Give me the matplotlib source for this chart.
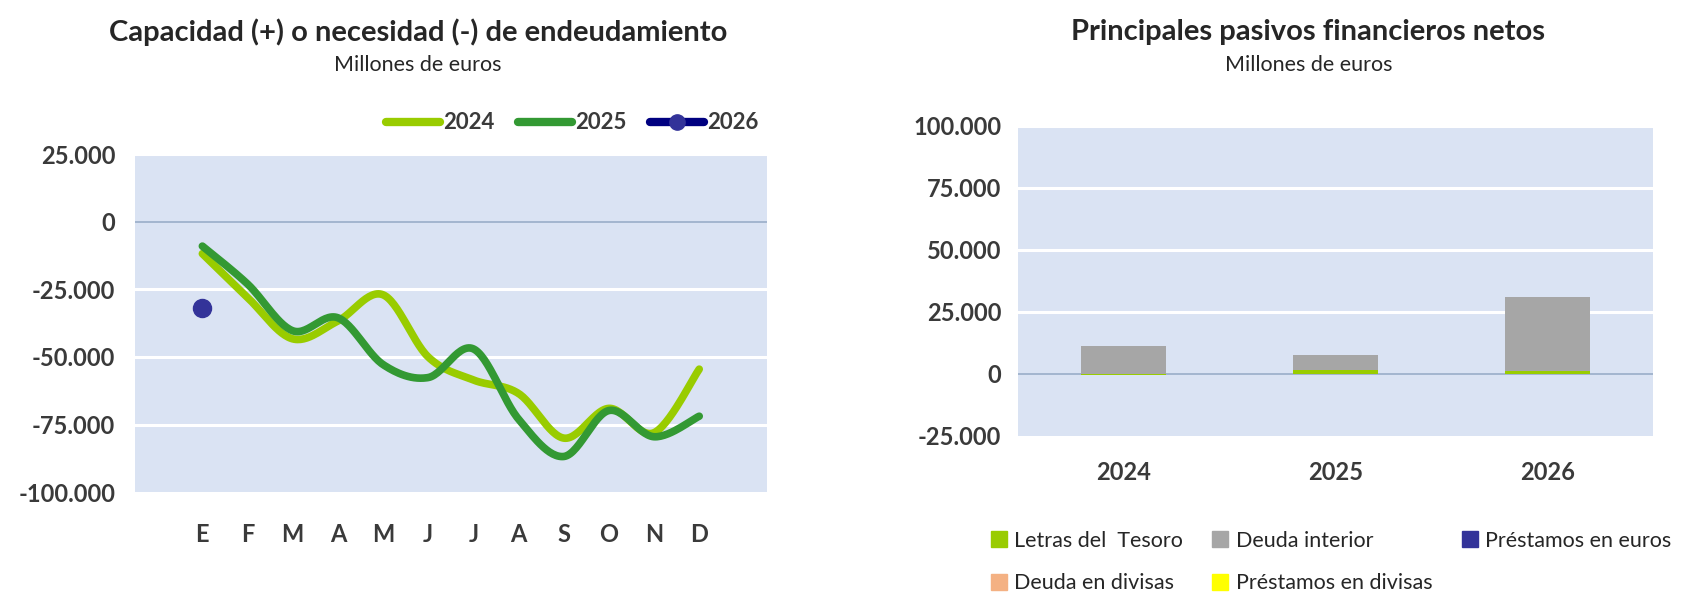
import numpy as np
import matplotlib
matplotlib.use("Agg")
from matplotlib import pyplot as plt
from matplotlib.ticker import FuncFormatter, FixedLocator
from matplotlib.lines import Line2D
from matplotlib.patches import Patch

plt.rcParams['font.family'] = ['Lato', 'DejaVu Sans']

# left chart: capacidad / necesidad de endeudamiento (millones de euros)
months = ['E', 'F', 'M', 'A', 'M', 'J', 'J', 'A', 'S', 'O', 'N', 'D']
serie_2024 = [-11800, -28000, -43300, -36700, -27000, -50000, -58500, -63500, -80000, -69000, -78000, -54500]
serie_2025 = [-9000, -23000, -40300, -35500, -52800, -57600, -47000, -73000, -86800, -69800, -79500, -71900]
serie_2026 = [-31800]

# right chart: principales pasivos financieros netos
years = ['2024', '2025', '2026']
letras = [-500, 1600, 1300]
deuda_interior = [11200, 6000, 29600]
prestamos_euros = [0, 0, 0]
deuda_divisas = [0, 0, 0]
prestamos_divisas = [0, 0, 0]

BG = '#DAE3F3'
TXT = '#262626'
TICK = '#3A3A3A'


def smooth(x, y, n=30):
    # Excel-style smoothed line (Catmull-Rom bezier through the data points)
    x = np.asarray(x, float)
    y = np.asarray(y, float)
    xs, ys = [], []
    t = np.linspace(0, 1, n)
    for i in range(len(x) - 1):
        p0 = max(i - 1, 0)
        p3 = min(i + 2, len(x) - 1)
        c1x = x[i] + (x[i + 1] - x[p0]) / 6
        c1y = y[i] + (y[i + 1] - y[p0]) / 6
        c2x = x[i + 1] - (x[p3] - x[i]) / 6
        c2y = y[i + 1] - (y[p3] - y[i]) / 6
        bx = (1 - t) ** 3 * x[i] + 3 * (1 - t) ** 2 * t * c1x + 3 * (1 - t) * t ** 2 * c2x + t ** 3 * x[i + 1]
        by = (1 - t) ** 3 * y[i] + 3 * (1 - t) ** 2 * t * c1y + 3 * (1 - t) * t ** 2 * c2y + t ** 3 * y[i + 1]
        xs.extend(bx)
        ys.extend(by)
    return xs, ys


def thousands(v, pos):
    return f"{int(round(v)):,}".replace(",", ".")


fig = plt.figure(figsize=(16.89, 5.93), dpi=100)

# ---------- left chart ----------
ax1 = fig.add_axes([0.0797, 0.170, 0.3744, 0.570])
ax1.set_facecolor(BG)
x = np.arange(len(months))
ax1.set_xlim(-1.5, 12.5)
ax1.set_ylim(-100000, 25000)
for g in [25000, -25000, -50000, -75000]:
    ax1.axhline(g, color='white', lw=2.2, zorder=1)
ax1.axhline(0, color='#9AAEC8', lw=1.2, zorder=1)

sx, sy = smooth(x, serie_2024)
ax1.plot(sx, sy, color='#99CC00', lw=5.5, solid_capstyle='round', zorder=3)
sx, sy = smooth(x, serie_2025)
ax1.plot(sx, sy, color='#339933', lw=5.5, solid_capstyle='round', zorder=4)
ax1.plot(x[:len(serie_2026)], serie_2026, 'o', color='#333399', ms=13, zorder=5)

ax1.xaxis.set_major_locator(FixedLocator(x))
ax1.set_xticklabels(months)
ax1.yaxis.set_major_locator(FixedLocator([25000, 0, -25000, -50000, -75000, -100000]))
ax1.yaxis.set_major_formatter(FuncFormatter(thousands))
ax1.tick_params(length=0, labelsize=17, colors=TICK, pad=14)
ax1.tick_params(axis='x', pad=22)
for lab in ax1.get_xticklabels() + ax1.get_yticklabels():
    lab.set_fontweight('bold')
for s in ax1.spines.values():
    s.set_visible(False)

leg_handles = [
    Line2D([], [], color='#99CC00', lw=6, solid_capstyle='round'),
    Line2D([], [], color='#339933', lw=6, solid_capstyle='round'),
    Line2D([], [], color='#000080', lw=6, solid_capstyle='round', marker='o',
           markersize=11, markerfacecolor='#333399', markeredgecolor='#333399'),
]
leg = ax1.legend(leg_handles, ['2024', '2025', '2026'], ncol=3, loc='lower right',
                 bbox_to_anchor=(1.0, 1.035), frameon=False, handlelength=2.45,
                 handletextpad=0.12, columnspacing=1.05, borderaxespad=0,
                 prop={'weight': 'bold', 'size': 16})
for t in leg.get_texts():
    t.set_color(TICK)

fig.text(0.2474, 0.946, 'Capacidad (+) o necesidad (-) de endeudamiento', ha='center', va='center',
         fontsize=21, fontweight='bold', color=TXT)
fig.text(0.2474, 0.891, 'Millones de euros', ha='center', va='center', fontsize=15.5, color=TXT)

# ---------- right chart ----------
ax2 = fig.add_axes([0.6027, 0.2648, 0.376, 0.5228])
ax2.set_facecolor(BG)
xb = np.arange(len(years))
ax2.set_xlim(-0.5, 2.5)
ax2.set_ylim(-25000, 100000)
for g in [25000, 50000, 75000, 100000]:
    ax2.axhline(g, color='white', lw=2.2, zorder=1)
ax2.axhline(0, color='#9AAEC8', lw=1.2, zorder=1)

w = 0.4
series = [
    ('Letras del  Tesoro', letras, '#99CC00'),
    ('Deuda interior', deuda_interior, '#A6A6A6'),
    ('Préstamos en euros', prestamos_euros, '#333399'),
    ('Deuda en divisas', deuda_divisas, '#F4B183'),
    ('Préstamos en divisas', prestamos_divisas, '#FFFF00'),
]
pos_base = np.zeros(len(years))
neg_base = np.zeros(len(years))
for name, vals, col in series:
    vals = np.asarray(vals, float)
    bottoms = np.where(vals >= 0, pos_base, neg_base)
    ax2.bar(xb, vals, w, bottom=bottoms, color=col, zorder=2)
    pos_base = pos_base + np.where(vals >= 0, vals, 0)
    neg_base = neg_base + np.where(vals < 0, vals, 0)

ax2.xaxis.set_major_locator(FixedLocator(xb))
ax2.set_xticklabels(years)
ax2.yaxis.set_major_locator(FixedLocator([100000, 75000, 50000, 25000, 0, -25000]))
ax2.yaxis.set_major_formatter(FuncFormatter(thousands))
ax2.tick_params(length=0, labelsize=17, colors=TICK, pad=12)
ax2.tick_params(axis='x', pad=18)
for lab in ax2.get_xticklabels() + ax2.get_yticklabels():
    lab.set_fontweight('bold')
for s in ax2.spines.values():
    s.set_visible(False)

# row-major order for a 3-column legend
cols = {name: col for name, _, col in series}
order = ['Letras del  Tesoro', 'Deuda en divisas', 'Deuda interior',
         'Préstamos en divisas', 'Préstamos en euros']
leg2 = fig.legend([Patch(color=cols[n]) for n in order], order, ncol=3,
                  loc='upper left', bbox_to_anchor=(0.575, 0.138), frameon=False,
                  handlelength=0.75, handleheight=0.75, handletextpad=0.35,
                  columnspacing=1.35, labelspacing=1.05, fontsize=15.5, borderpad=0.4)
for t in leg2.get_texts():
    t.set_color(TXT)

fig.text(0.7747, 0.946, 'Principales pasivos financieros netos', ha='center', va='center',
         fontsize=21, fontweight='bold', color=TXT)
fig.text(0.7747, 0.891, 'Millones de euros', ha='center', va='center', fontsize=15.5, color=TXT)

fig.savefig('out.png', dpi=100, facecolor='white')
